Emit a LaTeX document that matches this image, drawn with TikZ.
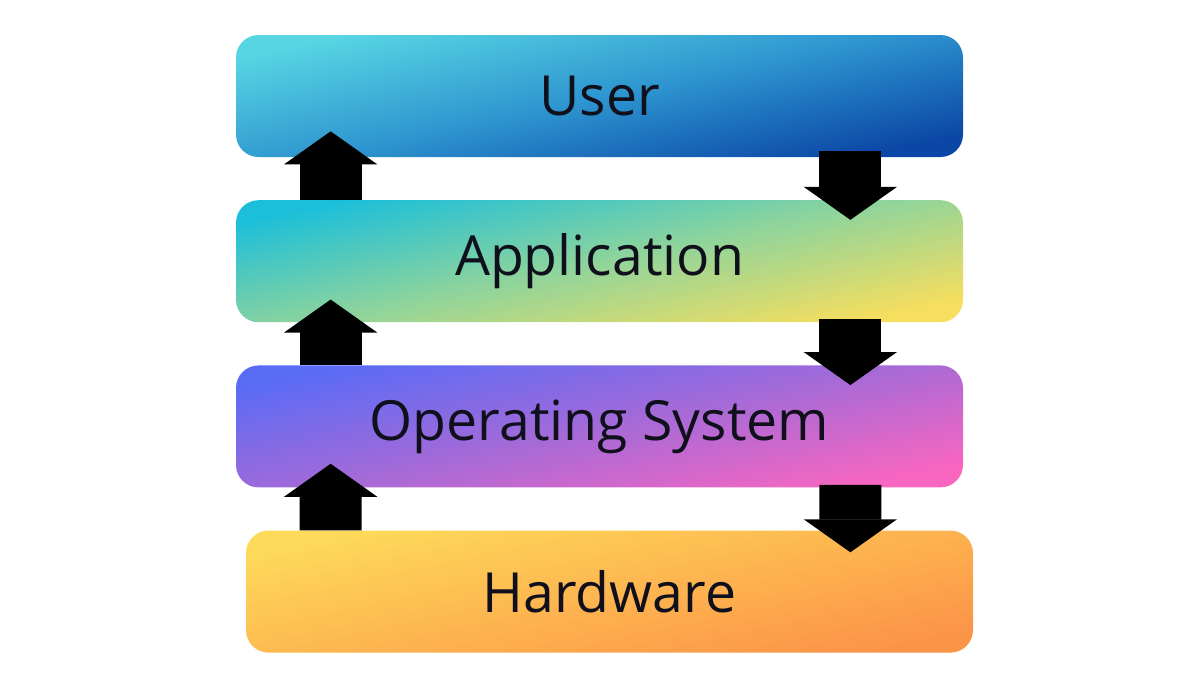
\documentclass[tikz,border=0pt]{standalone}
\usepackage{fontspec}
\setmainfont{Open Sans}
\usetikzlibrary{positioning, arrows.meta}
\definecolor{userTL}{HTML}{58D5E3}
\definecolor{userMid}{HTML}{2E96D0}
\definecolor{userBR}{HTML}{0B47A6}
\definecolor{appTL}{HTML}{1BBFDA}
\definecolor{appMid}{HTML}{8ED49C}
\definecolor{appBR}{HTML}{F6DE5E}
\definecolor{osTL}{HTML}{5A6BF6}
\definecolor{osMid}{HTML}{A46AD8}
\definecolor{osBR}{HTML}{F866C0}
\definecolor{hwTL}{HTML}{FDDA5A}
\definecolor{hwMid}{HTML}{FDB650}
\definecolor{hwBR}{HTML}{FC9448}
\definecolor{labelDark}{HTML}{10101C}

\begin{document}
\begin{tikzpicture}[font=\fontsize{31.5}{38}\selectfont, node distance=0.85cm,
    layer/.style n args={3}{top color=#1, bottom color=#3, middle color=#2,
      shading angle=12, rounded corners=0.45cm, minimum width=14.54cm,
      minimum height=2.44cm, inner sep=0pt, text=labelDark},
    flow/.style={line width=1.24cm, black,
      -{Triangle[length=0.66cm, width=1.86cm, line width=1pt]}}]
    \useasboundingbox (0,0) rectangle (24,-13.5);
    \node[layer={userTL}{userMid}{userBR}] (user) at (11.99,-1.92) {\raisebox{-2pt}{User}};
    \node[layer={appTL}{appMid}{appBR}, below=of user] (app) {\raisebox{-2pt}{Application}};
    \node[layer={osTL}{osMid}{osBR}, below=of app] (os) {\raisebox{-2pt}{Operating System}};
    \node[layer={hwTL}{hwMid}{hwBR}, below=of os, xshift=0.2cm] (hw) {\raisebox{-2pt}{Hardware}};
    % upward flow, left side
    \draw[flow] ([xshift=1.9cm]app.north west) -- ([xshift=1.9cm, yshift=0.52cm]user.south west);
    \draw[flow] ([xshift=1.9cm]os.north west) -- ([xshift=1.9cm, yshift=0.46cm]app.south west);
    \draw[flow] ([xshift=1.7cm]hw.north west) -- ([xshift=1.9cm, yshift=0.48cm]os.south west);
    % downward flow, right side
    \draw[flow] ([xshift=-2.26cm, yshift=0.12cm]user.south east) -- ([xshift=-2.26cm, yshift=-0.4cm]app.north east);
    \draw[flow] ([xshift=-2.26cm, yshift=0.08cm]app.south east) -- ([xshift=-2.26cm, yshift=-0.4cm]os.north east);
    \draw[flow] ([xshift=-2.26cm, yshift=0.06cm]os.south east) -- ([xshift=-2.46cm, yshift=-0.44cm]hw.north east);
\end{tikzpicture}
\end{document}
